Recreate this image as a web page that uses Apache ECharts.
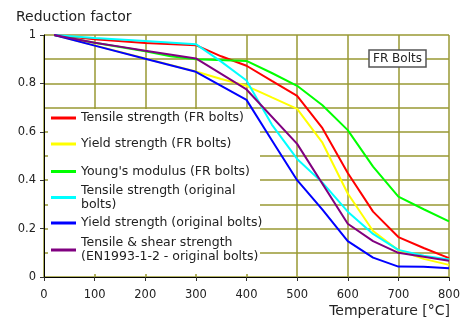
<!DOCTYPE html>
<html>
<head>
<meta charset="utf-8">
<script src="https://cdn.jsdelivr.net/npm/echarts@6/dist/echarts.min.js"></script>
<style>html,body{margin:0;padding:0;background:#fff}#c{width:465px;height:326px}</style>
</head>
<body>
<div id="c"></div>
<script>
// ---- data ----
const seriesNames = [
  'Tensile strength (FR bolts)',
  'Yield strength (FR bolts)',
  "Young's modulus (FR bolts)",
  'Tensile strength (original\nbolts)',
  'Yield strength (original bolts)',
  'Tensile & shear strength\n(EN1993-1-2 - original bolts)'
];
const seriesColors = ['#ff0000', '#ffff00', '#00ff00', '#00ffff', '#0000ff', '#800080'];

const tempsTensileFR = [20, 100, 200, 300, 350, 400, 450, 500, 550, 600, 650, 700, 750, 800];
const tensileFR      = [1.0, 0.982, 0.967, 0.958, 0.912, 0.873, 0.81, 0.748, 0.615, 0.43, 0.27, 0.165, 0.12, 0.078];

const tempsYieldFR = [20, 100, 200, 300, 350, 400, 450, 500, 550, 600, 650, 700, 750, 800];
const yieldFR      = [1.0, 0.957, 0.903, 0.849, 0.818, 0.79, 0.742, 0.695, 0.555, 0.345, 0.19, 0.11, 0.075, 0.05];

const tempsYoungFR = [20, 100, 200, 250, 300, 400, 450, 500, 550, 600, 650, 700, 750, 800];
const youngFR      = [1.0, 0.968, 0.933, 0.912, 0.9, 0.893, 0.843, 0.79, 0.71, 0.607, 0.456, 0.332, 0.28, 0.23];

const tempsTensileOrig = [20, 100, 200, 300, 350, 400, 450, 500, 550, 600, 650, 700, 750, 800];
const tensileOrig      = [1.0, 0.988, 0.975, 0.962, 0.89, 0.812, 0.63, 0.488, 0.39, 0.27, 0.178, 0.112, 0.088, 0.072];

const tempsYieldOrig = [20, 100, 200, 300, 350, 400, 450, 500, 550, 600, 650, 700, 750, 800];
const yieldOrig      = [1.0, 0.956, 0.902, 0.848, 0.79, 0.732, 0.565, 0.40, 0.278, 0.148, 0.08, 0.043, 0.042, 0.036];

const tempsEN = [20, 100, 150, 200, 300, 400, 500, 600, 650, 700, 800];
const kbEN    = [1.0, 0.968, 0.952, 0.935, 0.903, 0.775, 0.55, 0.22, 0.148, 0.1, 0.067];

const xTicks = [0, 100, 200, 300, 400, 500, 600, 700, 800];
const yTicks = [0, 0.2, 0.4, 0.6, 0.8, 1];

// ---- chart ----
const pairs = (xs, ys) => xs.map((x, i) => [x, ys[i]]);
const allData = [
  pairs(tempsTensileFR, tensileFR),
  pairs(tempsYieldFR, yieldFR),
  pairs(tempsYoungFR, youngFR),
  pairs(tempsTensileOrig, tensileOrig),
  pairs(tempsYieldOrig, yieldOrig),
  pairs(tempsEN, kbEN)
];

const FONT = 'DejaVu Sans';
const GRIDC = '#999933';
const legendTops = [111, 137, 164.5, 176.5, 216, 229];
const twoLine = [false, false, false, true, false, true];

const chart = echarts.init(document.getElementById('c'), null, {renderer: 'canvas'});
chart.setOption({
  animation: false,
  backgroundColor: '#fff',
  title: [
    {text: 'Reduction factor', left: 16, top: 10, padding: 0,
     textStyle: {fontFamily: FONT, fontSize: 14, fontWeight: 'normal', color: '#222'}},
    {text: 'Temperature [°C]', right: 15, top: 304, padding: 0,
     textStyle: {fontFamily: FONT, fontSize: 14, fontWeight: 'normal', color: '#222'}},
    {text: 'FR Bolts', left: 369, top: 50, padding: [3, 4, 2, 4],
     borderColor: '#555', borderWidth: 1.5, backgroundColor: '#fff',
     textStyle: {fontFamily: FONT, fontSize: 12, fontWeight: 'normal', color: '#222'}}
  ],
  grid: {left: 44, right: 16, top: 35, bottom: 49, containLabel: false},
  xAxis: {
    type: 'value', min: xTicks[0], max: xTicks[xTicks.length - 1], interval: 100,
    axisLine: {show: true, lineStyle: {color: '#000', width: 1}},
    axisTick: {show: true, inside: false, length: 4, lineStyle: {color: '#333'}},
    axisLabel: {fontFamily: FONT, fontSize: 11.5, color: '#222', margin: 12},
    splitLine: {show: true, lineStyle: {color: GRIDC, width: 1.5}}
  },
  yAxis: {
    type: 'value', min: yTicks[0], max: yTicks[yTicks.length - 1], interval: 0.2,
    axisLine: {show: true, lineStyle: {color: '#000', width: 1}},
    axisTick: {show: true, inside: false, length: 4, lineStyle: {color: '#333'}},
    axisLabel: {fontFamily: FONT, fontSize: 11.5, color: '#222', margin: 8},
    splitLine: {show: true, lineStyle: {color: GRIDC, width: 1.5}},
    minorTick: {show: false, splitNumber: 2},
    minorSplitLine: {show: true, lineStyle: {color: GRIDC, width: 1.5}}
  },
  graphic: [{
    type: 'rect', z: 1, zlevel: 0, silent: true,
    shape: {x: 48, y: 109, width: 212, height: 165},
    style: {fill: '#fff'}
  }],
  legend: seriesNames.map((n, i) => ({
    data: [n], left: 51, top: legendTops[i], padding: 0, itemGap: 0,
    itemWidth: 25, itemHeight: 3, icon: 'rect', selectedMode: false, orient: 'vertical',
    textStyle: {fontFamily: FONT, fontSize: 12.5, color: '#222', lineHeight: 14,
      padding: twoLine[i] ? [14, 0, 0, 0] : 0}
  })),
  series: seriesNames.map((n, i) => ({
    name: n, type: 'line', data: allData[i], showSymbol: false, symbol: 'none',
    z: 3, lineStyle: {color: seriesColors[i], width: 2}, itemStyle: {color: seriesColors[i]}
  }))
});
</script>
</body>
</html>
